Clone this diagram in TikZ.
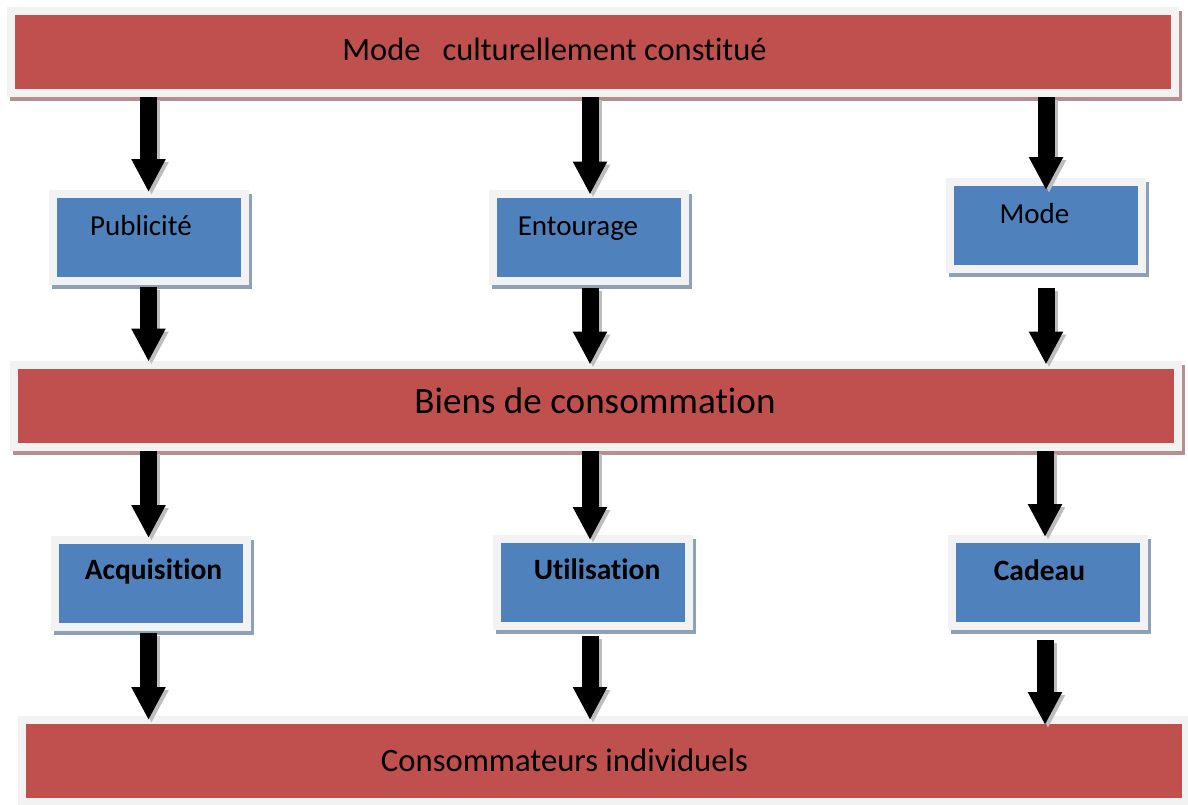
\documentclass[tikz,border=0pt]{standalone}
\usepackage{fontspec}
\setmainfont{Carlito}[Ligatures=NoCommon]
\usetikzlibrary{arrows.meta,shadows,calc}
\definecolor{barred}{HTML}{C0504D}
\definecolor{boxblue}{HTML}{4F81BD}
\definecolor{framegray}{HTML}{F2F2F2}
\definecolor{redshadow}{HTML}{B58F8F}
\definecolor{blueshadow}{HTML}{8CA0B6}
\definecolor{arrowshadow}{HTML}{BDBDBD}
\tikzset{
  bar/.style={draw=framegray, line width=8pt, fill=barred, minimum width=1164pt, minimum height=82pt,
    inner sep=0pt, general shadow={fill=redshadow, draw=redshadow, line width=8pt, shadow xshift=3pt, shadow yshift=-4pt}},
  bluebox/.style={draw=framegray, line width=8pt, fill=boxblue, minimum width=192pt, minimum height=87pt,
    inner sep=0pt, general shadow={fill=blueshadow, draw=blueshadow, line width=8pt, shadow xshift=3pt, shadow yshift=-4pt}},
  bartext/.style={anchor=base, inner sep=0pt},
  boxtext/.style={anchor=base, inner sep=0pt, font=\fontsize{29}{34}\selectfont},
  boldtext/.style={anchor=base, inner sep=0pt, font=\fontsize{29.5}{34}\selectfont\bfseries},
  flowarrow/.style={line width=17pt, -{Triangle[width=32pt,length=33pt]}},
  flowshadow/.style={flowarrow, draw=arrowshadow, transform canvas={shift={(3pt,-3pt)}}}
}
\begin{document}
\begin{tikzpicture}[x=1pt,y=-1pt]
\useasboundingbox (0,0) rectangle (1188,804);
\fill[white] (0,0) rectangle (1188,804);
% bars
\node[bar] (top) at (592.5,52) {};
\node[bar] (biens) at (595.5,405.5) {};
\node[bar] (cons) at (603.5,761) {};
% boxes
\node[bluebox] (pub) at (149,237.5) {};
\node[bluebox] (ent) at (589,237) {};
\node[bluebox] (mod) at (1046,225.5) {};
\node[bluebox] (acq) at (151,583.5) {};
\node[bluebox] (uti) at (593,582.5) {};
\node[bluebox] (cad) at (1048,582.5) {};
% texts
\node[bartext, font=\fontsize{32.5}{40}\selectfont] (ttop) at (554.5,60) {Mode\ \ \ culturellement constitué};
\node[bartext, font=\fontsize{37.1}{42}\selectfont] (tbiens) at (595,413) {Biens de consommation};
\node[bartext, font=\fontsize{32.7}{40}\selectfont] (tcons) at (564.5,771) {Consommateurs individuels};
\node[boxtext] (tpub) at (141,235) {Publicité};
\node[boxtext] (tent) at (578,235) {Entourage};
\node[boxtext] (tmod) at (1034.5,223) {Mode};
\node[boldtext] (tacq) at (153.5,579) {Acquisition};
\node[boldtext] (tuti) at (597,579) {Utilisation};
\node[boldtext] (tcad) at (1039.5,580) {Cadeau};
% arrows
\foreach \s in {flowshadow,flowarrow}{
  \draw[\s] ([xshift=-0.5pt]pub.north |- top.south) -- ([xshift=-0.5pt,yshift=-2pt]pub.north);
  \draw[\s] ([xshift=1pt]ent.north |- top.south) -- ([xshift=1pt,yshift=-5pt]ent.north);
  \draw[\s] (mod.north |- top.south) -- ([yshift=-12pt]mod.north);
  \draw[\s] ([xshift=-0.5pt,yshift=-2pt]pub.south) -- ([xshift=-0.5pt,yshift=-1pt]pub.south |- biens.north);
  \draw[\s] ([xshift=1pt,yshift=-3pt]ent.south) -- ([xshift=1pt,yshift=-4pt]ent.south |- biens.north);
  \draw[\s] ([yshift=-15pt]mod.south) -- ([yshift=-4pt]mod.south |- biens.north);
  \draw[\s] ([xshift=-2.5pt]acq.north |- biens.south) -- ([xshift=-2.5pt,yshift=-2pt]acq.north);
  \draw[\s] ([xshift=-3pt]uti.north |- biens.south) -- ([xshift=-3pt,yshift=-5pt]uti.north);
  \draw[\s] ([xshift=-3pt]cad.north |- biens.south) -- ([xshift=-3pt,yshift=-2pt]cad.north);
  \draw[\s] ([xshift=-2.5pt,yshift=-2pt]acq.south) -- ([xshift=-2.5pt,yshift=-4pt]acq.south |- cons.north);
  \draw[\s] ([xshift=-3pt,yshift=-6pt]uti.south) -- ([xshift=-3pt,yshift=-4pt]uti.south |- cons.north);
  \draw[\s] ([xshift=-3pt,yshift=-10pt]cad.south) -- ([xshift=-3pt,yshift=-9pt]cad.south |- cons.north);
}
\end{tikzpicture}
\end{document}
